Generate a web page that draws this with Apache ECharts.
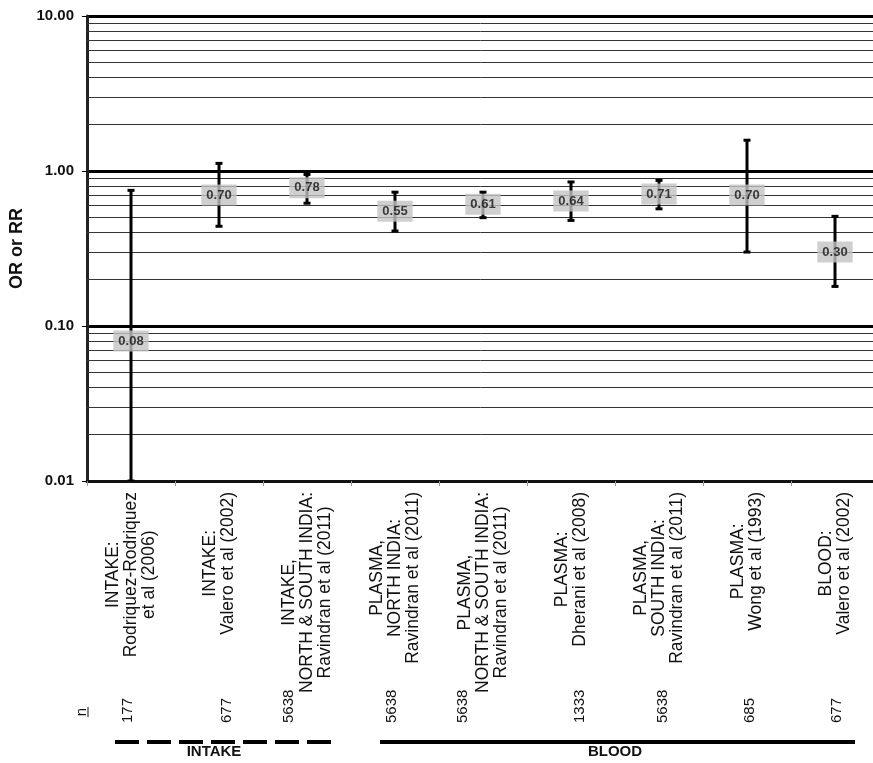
<!DOCTYPE html>
<html>
<head>
<meta charset="utf-8">
<script src="https://cdn.jsdelivr.net/npm/echarts@6/dist/echarts.min.js"></script>
<style>
  html, body { margin: 0; padding: 0; background: #fff; }
  #chart { width: 873px; height: 763px; }
</style>
</head>
<body>
<div id="chart"></div>
<script>
// Study labels (one per column)
const categories = [
  'INTAKE:\nRodriquez-Rodriquez\net al (2006)',
  'INTAKE:\nValero et al (2002)',
  'INTAKE,\nNORTH & SOUTH INDIA:\nRavindran et al (2011)',
  'PLASMA,\nNORTH INDIA:\nRavindran et al (2011)',
  'PLASMA,\nNORTH & SOUTH INDIA:\nRavindran et al (2011)',
  'PLASMA:\nDherani et al (2008)',
  'PLASMA,\nSOUTH INDIA:\nRavindran et al (2011)',
  'PLASMA:\nWong et al (1993)',
  'BLOOD:\nValero et al (2002)'
];

// Odds ratio / relative risk and its confidence interval
const estimates = [0.08, 0.70, 0.78, 0.55, 0.61, 0.64, 0.71, 0.70, 0.30];
const lowerCI   = [0.01, 0.44, 0.62, 0.41, 0.50, 0.48, 0.57, 0.30, 0.18];
const upperCI   = [0.75, 1.12, 0.95, 0.73, 0.73, 0.85, 0.87, 1.58, 0.51];

// Sample size per study
const sampleSizes = ['177', '677', '5638', '5638', '5638', '1333', '5638', '685', '677'];

// Thin gridlines between the decades of the log scale
const minorGridValues = [
  0.02, 0.03, 0.04, 0.05, 0.06, 0.07, 0.08, 0.09,
  0.2, 0.3, 0.4, 0.5, 0.6, 0.7, 0.8, 0.9,
  2, 3, 4, 5, 6, 7, 8, 9
];

// Group captions below the columns
const groupNames = ['INTAKE', 'BLOOD'];

const FONT = '"Liberation Sans", Arial, Helvetica, sans-serif';

// Sideways nudge (px) of each sample-size label so it clears the long study lines
const nLabelNudge = [-3, 8, -18, -3, -20, 9, 4, 3, 2];

// One rich style per sample-size label; on the rotated text, top padding
// moves it right on screen and bottom padding moves it left.
const nRich = {};
nLabelNudge.forEach(function (s, i) {
  nRich['n' + i] = {
    fontFamily: FONT, fontSize: 15, color: '#111',
    padding: s >= 0 ? [2 * s, 0, 0, 0] : [0, 0, -2 * s, 0]
  };
});

const chart = echarts.init(document.getElementById('chart'), null, { renderer: 'canvas' });

const option = {
  animation: false,
  backgroundColor: '#fff',
  grid: {
    left: 87, top: 16, right: -6, bottom: 282,
    containLabel: false,
    outerBoundsMode: 'none'
  },
  xAxis: [
    {
      type: 'category',
      data: categories,
      boundaryGap: true,
      axisLine: { show: true, lineStyle: { color: '#111', width: 3 } },
      axisTick: { show: true, interval: 0, length: 5, lineStyle: { color: '#999', width: 1 } },
      splitLine: { show: false },
      axisLabel: {
        interval: 0,
        rotate: 90,
        margin: 11,
        hideOverlap: false,
        color: '#111',
        fontFamily: FONT,
        fontSize: 17.5,
        formatter: function (v) {
          return v.split('\n').map(function (s) { return '{c|' + s + '}'; }).join('\n');
        },
        rich: {
          c: { align: 'center', fontSize: 17.5, lineHeight: 18, fontFamily: FONT, color: '#111' }
        }
      }
    },
    {
      type: 'category',
      data: sampleSizes,
      position: 'bottom',
      offset: 250,
      axisLine: { show: false },
      axisTick: { show: false },
      splitLine: { show: false },
      axisLabel: {
        inside: true,
        interval: 0,
        rotate: 90,
        margin: 8,
        hideOverlap: false,
        color: '#111',
        fontFamily: FONT,
        fontSize: 15,
        formatter: function (v, i) { return '{n' + i + '|' + v + '}'; },
        rich: nRich
      }
    }
  ],
  yAxis: {
    type: 'log',
    logBase: 10,
    min: 0.01,
    max: 10,
    name: 'OR or RR',
    nameLocation: 'middle',
    nameGap: 48,
    nameTextStyle: { fontFamily: FONT, fontSize: 18, fontWeight: 'bold', color: '#111' },
    axisLine: { show: true, lineStyle: { color: '#222', width: 3 } },
    axisTick: { show: true, length: 5, lineStyle: { color: '#000', width: 1 } },
    minorTick: { show: false },
    splitLine: { show: true, lineStyle: { color: '#000', width: 3 } },
    axisLabel: {
      margin: 13,
      color: '#111',
      fontFamily: FONT,
      fontSize: 15,
      fontWeight: 'bold',
      formatter: function (v) { return Number(v).toFixed(2); }
    }
  },
  series: [
    {
      // confidence interval whiskers
      type: 'custom',
      z: 2,
      clip: true,
      encode: { x: 0, y: [1, 2] },
      data: lowerCI.map(function (lo, i) { return [i, lo, upperCI[i]]; }),
      renderItem: function (params, api) {
        const lo = api.coord([api.value(0), api.value(1)]);
        const hi = api.coord([api.value(0), api.value(2)]);
        const cx = lo[0];
        const fill = { fill: '#000' };
        return {
          type: 'group',
          children: [
            { type: 'line', shape: { x1: cx, y1: lo[1], x2: cx, y2: hi[1] }, style: { stroke: '#000', lineWidth: 3 } },
            { type: 'rect', shape: { x: cx - 3.5, y: hi[1] - 1.5, width: 7, height: 3 }, style: fill },
            { type: 'rect', shape: { x: cx - 3.5, y: lo[1] - 1.5, width: 7, height: 3 }, style: fill }
          ]
        };
      },
      markLine: {
        silent: true,
        z: 1,
        symbol: 'none',
        label: { show: false },
        lineStyle: { color: '#333', width: 1, type: 'solid' },
        emphasis: { disabled: true },
        data: minorGridValues.map(function (v) { return { yAxis: v }; })
      }
    },
    {
      // point estimates with value boxes
      type: 'scatter',
      z: 3,
      symbol: 'rect',
      symbolSize: 1,
      itemStyle: { color: 'rgba(0,0,0,0)' },
      data: estimates.map(function (v, i) { return [i, v]; }),
      label: {
        show: true,
        position: 'inside',
        formatter: function (p) { return p.value[1].toFixed(2); },
        backgroundColor: '#c3c3c3',
        padding: [4, 5, 3, 5],
        lineHeight: 14,
        color: '#111',
        fontFamily: FONT,
        fontSize: 13,
        fontWeight: 'bold'
      },
      emphasis: { disabled: true }
    }
  ],
  graphic: [
    {
      type: 'text',
      x: 82, y: 712,
      rotation: Math.PI / 2,
      style: { text: 'n', fontFamily: FONT, fontSize: 15, fill: '#111', align: 'center', verticalAlign: 'middle' }
    },
    {
      type: 'line',
      shape: { x1: 88, y1: 707, x2: 88, y2: 717 },
      style: { stroke: '#111', lineWidth: 1 }
    },
    {
      type: 'line',
      shape: { x1: 115, y1: 742, x2: 336, y2: 742 },
      style: { stroke: '#000', lineWidth: 4, lineDash: [24, 8] }
    },
    {
      type: 'text',
      x: 214, y: 744,
      style: { text: groupNames[0], fontFamily: FONT, fontSize: 15, fontWeight: 'bold', fill: '#111', align: 'center', verticalAlign: 'top' }
    },
    {
      type: 'line',
      shape: { x1: 380, y1: 742, x2: 855, y2: 742 },
      style: { stroke: '#000', lineWidth: 4 }
    },
    {
      type: 'text',
      x: 615, y: 744,
      style: { text: groupNames[1], fontFamily: FONT, fontSize: 15, fontWeight: 'bold', fill: '#111', align: 'center', verticalAlign: 'top' }
    }
  ]
};

chart.setOption(option);
</script>
</body>
</html>
